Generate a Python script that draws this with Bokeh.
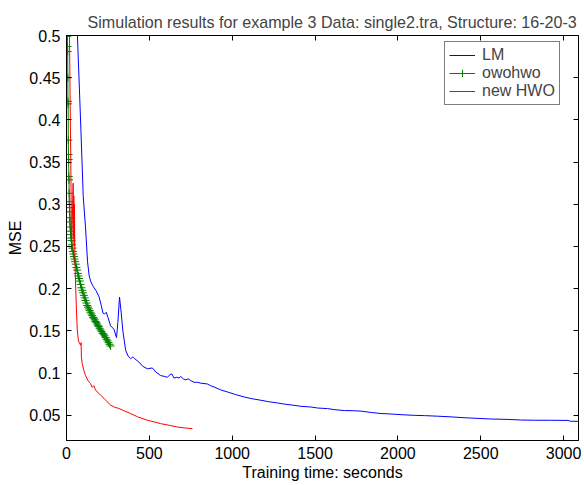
from bokeh.plotting import figure
from bokeh.models import LinearAxis, FixedTicker, Range1d, Legend, LegendItem, CustomLabelingPolicy
from bokeh.embed import file_html
from bokeh.resources import INLINE

# ---------------- data ----------------
lm_t = [40, 66, 87, 101, 115, 127, 137, 147, 160, 177, 197, 210, 220, 230, 240, 250, 266, 286,
        302, 310, 320, 330, 340, 357, 372, 387, 400, 411, 437, 460, 488, 518, 540, 568, 590, 609,
        625, 635, 649, 665, 680, 689, 705, 719, 735, 750, 770, 790, 810, 830, 850, 870, 890, 930,
        972, 1020, 1072, 1120, 1173, 1220, 1274, 1320, 1374, 1415, 1475, 1516, 1576, 1620, 1677,
        1730, 1777, 1840, 1898, 1950, 2030, 2100, 2160, 2240, 2322, 2400, 2483, 2560, 2664, 2740,
        2825, 2920, 3027, 3040, 3088]
lm_mse = [0.64, 0.50, 0.388, 0.309, 0.272, 0.232, 0.215, 0.208, 0.203, 0.198, 0.190, 0.180, 0.171,
          0.170, 0.172, 0.166, 0.156, 0.152, 0.142, 0.160, 0.190, 0.172, 0.150, 0.127, 0.120, 0.117,
          0.119, 0.117, 0.113, 0.108, 0.105, 0.106, 0.101, 0.097, 0.096, 0.095, 0.098, 0.099, 0.094,
          0.095, 0.094, 0.096, 0.093, 0.092, 0.093, 0.091, 0.089, 0.089, 0.088, 0.0875, 0.087, 0.085,
          0.0835, 0.080, 0.0775, 0.0745, 0.0716, 0.0695, 0.0677, 0.066, 0.0645, 0.063, 0.0617,
          0.0605, 0.0597, 0.0585, 0.0578, 0.0565, 0.0555, 0.0553, 0.0548, 0.0532, 0.052, 0.0515,
          0.0505, 0.0498, 0.0495, 0.0488, 0.048, 0.047, 0.0462, 0.0455, 0.045, 0.0443, 0.044,
          0.044, 0.0438, 0.0428, 0.0427]

owo_t = [2, 4, 5, 6, 7, 8, 9, 10, 11, 12, 13, 14, 15, 16, 17, 18, 19, 20, 21, 22, 24, 26, 28, 30,
         33, 36, 39, 42, 45, 48, 52, 56, 60, 64, 68, 72, 76, 80, 85, 90, 95, 100, 105, 110, 115,
         120, 125, 130, 135, 140, 145, 150, 155, 160, 165, 170, 175, 180, 185, 190, 195, 200, 206,
         212, 218, 224, 230, 236, 242, 248, 254, 260, 266]
owo_mse = [0.60, 0.515, 0.499, 0.487, 0.481, 0.450, 0.422, 0.419, 0.376, 0.359, 0.353, 0.333,
           0.329, 0.313, 0.303, 0.296, 0.291, 0.284, 0.279, 0.273, 0.268, 0.264, 0.260, 0.257,
           0.252, 0.248, 0.244, 0.241, 0.238, 0.235, 0.232, 0.229, 0.225, 0.222, 0.218, 0.215,
           0.212, 0.209, 0.205, 0.201, 0.198, 0.195, 0.192, 0.189, 0.186, 0.183, 0.180, 0.178,
           0.176, 0.174, 0.172, 0.170, 0.168, 0.166, 0.165, 0.163, 0.161, 0.160, 0.158, 0.156,
           0.155, 0.153, 0.151, 0.149, 0.147, 0.146, 0.144, 0.142, 0.140, 0.138, 0.136, 0.134,
           0.132]

hwo_t = [12, 18, 22, 26, 29, 31, 40, 42, 44, 46, 48, 50, 54, 60, 65, 72, 85, 88, 90, 95, 105,
         115, 130, 145, 155, 165, 175, 185, 205, 226, 245, 266, 290, 316, 350, 387, 430, 488, 530,
         568, 620, 669, 710, 760]
hwo_mse = [0.65, 0.50, 0.42, 0.35, 0.28, 0.245, 0.325, 0.26, 0.31, 0.25, 0.30, 0.243, 0.21, 0.175,
           0.151, 0.138, 0.133, 0.136, 0.118, 0.111, 0.103, 0.097, 0.091, 0.0875, 0.083, 0.085,
           0.080, 0.0776, 0.074, 0.070, 0.066, 0.062, 0.0595, 0.058, 0.055, 0.052, 0.048, 0.044,
           0.042, 0.040, 0.038, 0.036, 0.035, 0.034]

x_ticks = [0, 500, 1000, 1500, 2000, 2500, 3000]
y_ticks = [0.05, 0.1, 0.15, 0.2, 0.25, 0.3, 0.35, 0.4, 0.45, 0.5]
y_tick_labels = ["0.05", "0.1", "0.15", "0.2", "0.25", "0.3", "0.35", "0.4", "0.45", "0.5"]

title_text = "Simulation results for example 3 Data: single2.tra,  Structure: 16-20-3"
series_names = ["LM", "owohwo", "new HWO"]

FONT = "Liberation Sans"
FS = "16px"

p = figure(width=584, height=485, output_backend="svg", toolbar_location=None,
           x_range=Range1d(0, 3090), y_range=Range1d(0.02, 0.5),
           min_border_left=66, min_border_right=6, min_border_top=35, min_border_bottom=45)
p.background_fill_color = "white"
p.border_fill_color = "white"
p.outline_line_color = "black"
p.outline_line_width = 1
p.xgrid.visible = False
p.ygrid.visible = False

p.title.text = title_text
p.title.text_font = FONT
p.title.text_font_size = "16.1px"
p.title.text_font_style = "normal"
p.title.align = "left"
p.title.offset = 21
p.title.standoff = 2

r_lm = p.line(lm_t, lm_mse, line_color="#0000ff", line_width=1)
r_owo = p.line(owo_t, owo_mse, line_color="#008000", line_width=1)
r_owo_m = p.scatter(owo_t, owo_mse, marker="cross", size=8, line_color="#008000", line_width=1)
r_hwo = p.line(hwo_t, hwo_mse, line_color="#ff0000", line_width=1)

def style_axis(ax, show_labels):
    ax.axis_line_color = "black"
    ax.major_tick_line_color = "black"
    ax.major_tick_in = 5
    ax.major_tick_out = 0
    ax.minor_tick_line_color = None
    ax.major_label_text_font = FONT
    ax.major_label_text_font_size = FS if show_labels else "1px"
    ax.major_label_text_color = "black"
    ax.axis_label_text_font = FONT
    ax.axis_label_text_font_size = FS
    ax.axis_label_text_font_style = "normal"
    ax.axis_label_text_color = "black"
    if not show_labels:
        ax.major_label_policy = CustomLabelingPolicy(code="return []")
        ax.major_label_standoff = 0
        ax.axis_label_standoff = 0

xa = p.xaxis[0]
xa.ticker = FixedTicker(ticks=x_ticks)
xa.axis_label = "Training time: seconds"
xa.major_label_standoff = 6
xa.axis_label_standoff = 2
style_axis(xa, True)

ya = p.yaxis[0]
ya.ticker = FixedTicker(ticks=y_ticks)
ya.major_label_overrides = {v: s for v, s in zip(y_ticks, y_tick_labels)}
ya.axis_label = "MSE"
ya.major_label_standoff = 6
ya.axis_label_standoff = 2
style_axis(ya, True)

top = LinearAxis(ticker=FixedTicker(ticks=x_ticks))
style_axis(top, False)
p.add_layout(top, "above")
right = LinearAxis(ticker=FixedTicker(ticks=y_ticks))
style_axis(right, False)
p.add_layout(right, "right")

legend = Legend(items=[
    LegendItem(label=series_names[0], renderers=[r_lm]),
    LegendItem(label=series_names[1], renderers=[r_owo, r_owo_m]),
    LegendItem(label=series_names[2], renderers=[r_hwo]),
], location=(378, 335))
legend.label_text_font = FONT
legend.label_text_font_size = FS
legend.glyph_width = 26
legend.glyph_height = 18
legend.label_height = 18
legend.label_standoff = 7
legend.spacing = 0
legend.padding = 4
legend.margin = 0
legend.border_line_color = "black"
legend.border_line_width = 1
legend.background_fill_color = "white"
legend.background_fill_alpha = 1
p.add_layout(legend, "center")

open("out.html", "w").write(file_html(p, INLINE))
